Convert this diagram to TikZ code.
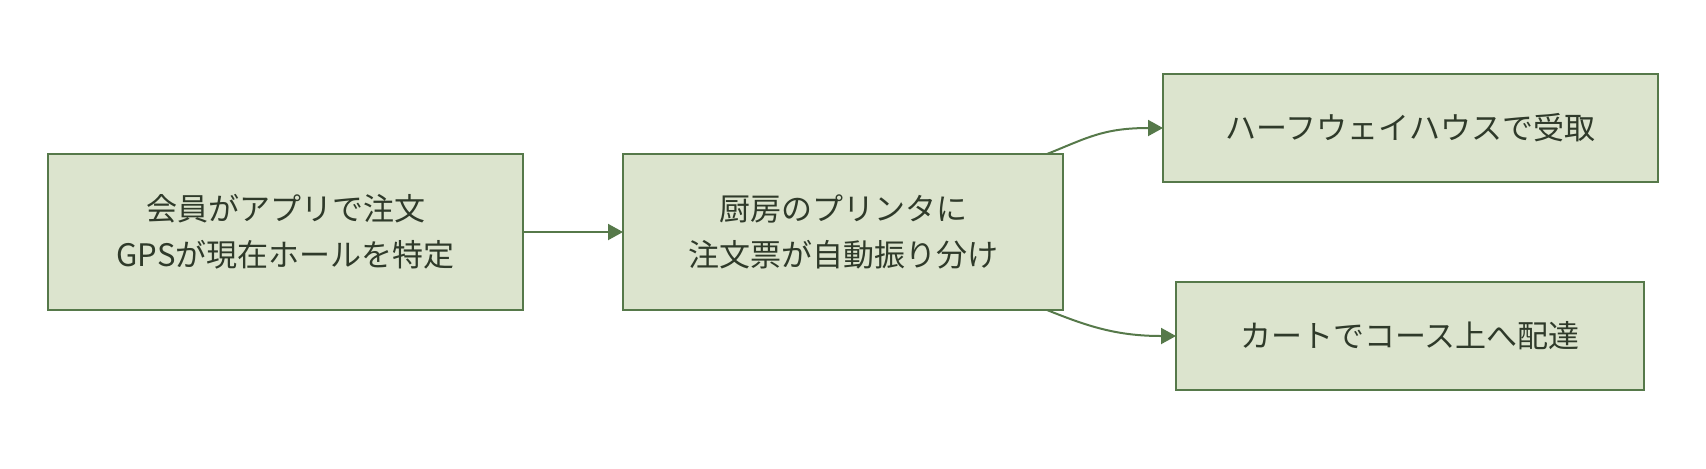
\documentclass[tikz,border=0pt]{standalone}
\usepackage{fontspec}
\setmainfont{Noto Sans CJK JP}
\usetikzlibrary{arrows.meta}
\definecolor{boxfill}{HTML}{DCE4CE}
\definecolor{boxline}{HTML}{56794A}
\definecolor{txt}{HTML}{2F3A2A}
\begin{document}
\begin{tikzpicture}[x=0.5pt,y=-0.5pt,
  box/.style={draw=boxline,fill=boxfill,line width=1pt,text=txt,
    font=\fontsize{15.5pt}{23pt}\selectfont,align=center,inner sep=0pt,outer sep=0pt},
  conn/.style={draw=boxline,line width=1pt,-{Triangle[length=7.5pt,width=8pt]}}]
\useasboundingbox (0,0) rectangle (1706,468);
\node[box,minimum width=237.5pt,minimum height=78pt] (A) at (285.5,232) {会員がアプリで注文\\GPSが現在ホールを特定};
\node[box,minimum width=220pt,minimum height=78pt] (B) at (843,232) {厨房のプリンタに\\注文票が自動振り分け};
\node[box,minimum width=247.5pt,minimum height=54pt] (C) at (1410.5,128) {ハーフウェイハウスで受取};
\node[box,minimum width=234pt,minimum height=54pt] (D) at (1410,336) {カートでコース上へ配達};
\draw[conn] (A.east) -- (B.west);
\draw[conn] ([xshift=-8pt]B.north east) .. controls +(40,-16) and +(-60,0) .. (C.west);
\draw[conn] ([xshift=-8pt]B.south east) .. controls +(40,16) and +(-60,0) .. (D.west);
\end{tikzpicture}
\end{document}
